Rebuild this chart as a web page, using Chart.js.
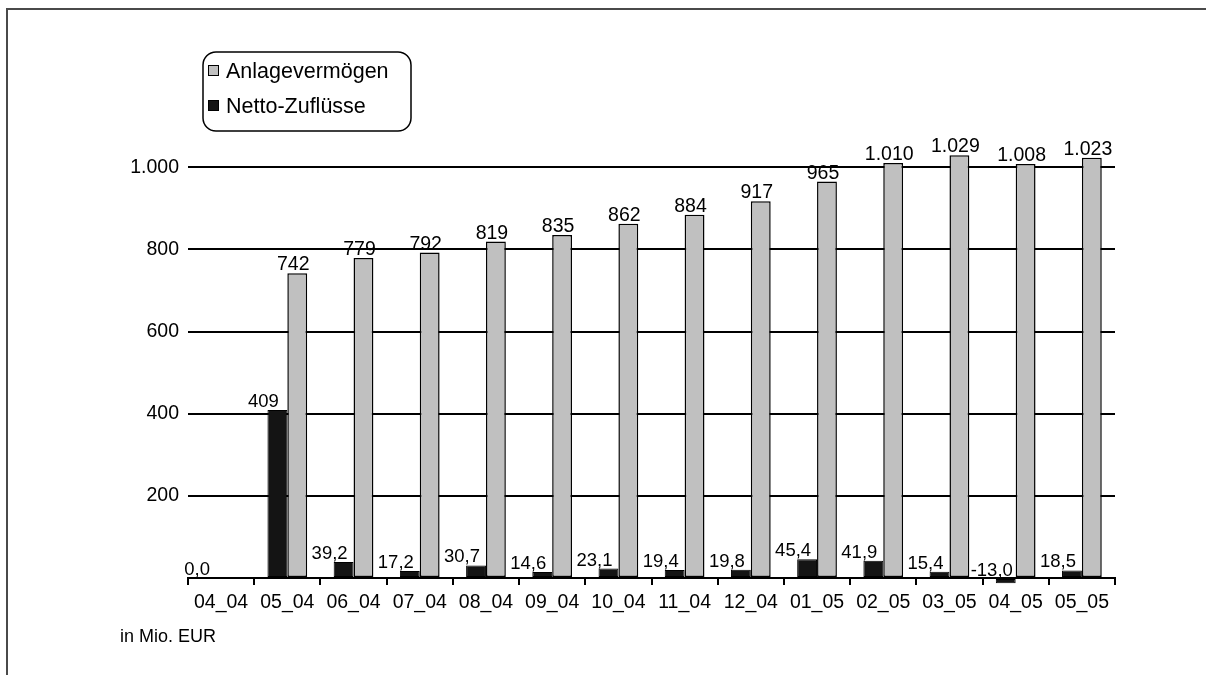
<!DOCTYPE html>
<html>
<head>
<meta charset="utf-8">
<script src="https://cdn.jsdelivr.net/npm/chart.js@4"></script>
<style>
  html, body { margin: 0; padding: 0; background: #fff; }
  #wrap { position: relative; width: 1206px; height: 675px; overflow: hidden; }
  #frame { position: absolute; left: 6px; top: 8px; width: 1400px; height: 900px;
           border-top: 2px solid #4a4a4a; border-left: 2px solid #4a4a4a; }
  canvas { position: absolute; left: 0; top: 0; }
  #note { position: absolute; left: 120px; top: 626px; font: 18px "Liberation Sans", Arial, sans-serif; color: #000; }
</style>
</head>
<body>
<div id="wrap">
  <div id="frame"></div>
  <canvas id="c" width="1206" height="675"></canvas>
  <div id="note">in Mio. EUR</div>
</div>
<script>
const categories = ["04_04","05_04","06_04","07_04","08_04","09_04","10_04","11_04","12_04","01_05","02_05","03_05","04_05","05_05"];
const anlagevermoegen = [null, 742, 779, 792, 819, 835, 862, 884, 917, 965, 1010, 1029, 1008, 1023];
const nettoZufluesse = [0.0, 409, 39.2, 17.2, 30.7, 14.6, 23.1, 19.4, 19.8, 45.4, 41.9, 15.4, -13.0, 18.5];
const yTicks = [0, 200, 400, 600, 800, 1000];
const yTickLabels = ["", "200", "400", "600", "800", "1.000"];
const seriesNames = ["Anlagevermögen", "Netto-Zuflüsse"];

const FONT = '"Liberation Sans", Arial, sans-serif';

function deInt(v) {
  const s = Math.round(Math.abs(v)).toString().replace(/\B(?=(\d{3})+(?!\d))/g, '.');
  return (v < 0 ? '-' : '') + s;
}
function deOne(v) {
  if (Math.abs(v) >= 100) return deInt(v);
  return v.toFixed(1).replace('.', ',');
}

const labelPlugin = {
  id: 'valueLabels',
  afterDatasetsDraw(chart) {
    const ctx = chart.ctx;
    ctx.save();
    ctx.fillStyle = '#000';
    ctx.textAlign = 'center';
    ctx.textBaseline = 'alphabetic';
    chart.data.datasets.forEach((ds, di) => {
      const meta = chart.getDatasetMeta(di);
      meta.data.forEach((el, i) => {
        const v = ds.data[i];
        if (v === null || v === undefined) return;
        const top = Math.min(el.y, el.base);
        if (ds.label === seriesNames[1]) {
          ctx.font = '18.5px ' + FONT;
          ctx.fillText(deOne(v), el.x - 14, top - 3);
        } else {
          ctx.font = '19.5px ' + FONT;
          ctx.fillText(deInt(v), el.x - 4, top - 3);
        }
      });
    });
    ctx.restore();
  }
};

const legendPlugin = {
  id: 'boxLegend',
  afterDraw(chart) {
    const ctx = chart.ctx;
    ctx.save();
    ctx.beginPath();
    ctx.roundRect(203, 52, 208, 79, 13);
    ctx.fillStyle = '#fff';
    ctx.fill();
    ctx.lineWidth = 1.5;
    ctx.strokeStyle = '#000';
    ctx.stroke();
    const items = [
      { name: seriesNames[0], color: '#c0c0c0', y: 78 },
      { name: seriesNames[1], color: '#141414', y: 113 }
    ];
    ctx.font = '21.5px ' + FONT;
    ctx.textBaseline = 'alphabetic';
    ctx.textAlign = 'left';
    items.forEach(it => {
      ctx.fillStyle = it.color;
      ctx.fillRect(208, it.y - 13, 11, 11);
      ctx.lineWidth = 1;
      ctx.strokeStyle = '#000';
      ctx.strokeRect(208.5, it.y - 12.5, 10, 10);
      ctx.fillStyle = '#000';
      ctx.fillText(it.name, 226, it.y);
    });
    ctx.restore();
  }
};

new Chart(document.getElementById('c'), {
  type: 'bar',
  data: {
    labels: categories,
    datasets: [
      { label: seriesNames[1], data: nettoZufluesse, backgroundColor: '#141414', borderColor: '#000', borderWidth: 1, borderSkipped: false, clip: false },
      { label: seriesNames[0], data: anlagevermoegen, backgroundColor: '#c0c0c0', borderColor: '#000', borderWidth: 1.5, borderSkipped: false, clip: false }
    ]
  },
  options: {
    responsive: false,
    animation: false,
    events: [],
    layout: { padding: { left: 0, right: 91, top: 85, bottom: 0 } },
    datasets: { bar: { categoryPercentage: 0.6, barPercentage: 1.0 } },
    plugins: { legend: { display: false }, tooltip: { enabled: false } },
    scales: {
      x: {
        grid: { offset: true, drawOnChartArea: false, drawTicks: true, tickLength: 7, color: '#000', lineWidth: 2 },
        border: { display: true, color: '#000', width: 2 },
        ticks: { color: '#000', font: { family: FONT, size: 19.5 }, padding: 6, maxRotation: 0, autoSkip: false },
        afterFit(s) { s.height = 97; }
      },
      y: {
        min: 0,
        max: 1200,
        afterBuildTicks(s) { s.ticks = yTicks.concat([1200]).map(v => ({ value: v })); },
        grid: { drawTicks: false, color: c => (c.tick && c.tick.value > 1000) ? 'rgba(0,0,0,0)' : '#000', lineWidth: 2 },
        border: { display: false },
        ticks: { color: '#000', font: { family: FONT, size: 19.5 }, padding: 9,
                 callback: v => { const k = yTicks.indexOf(v); return k >= 0 ? yTickLabels[k] : ''; } },
        afterFit(s) { s.width = 188; }
      }
    }
  },
  plugins: [labelPlugin, legendPlugin]
});
</script>
</body>
</html>
